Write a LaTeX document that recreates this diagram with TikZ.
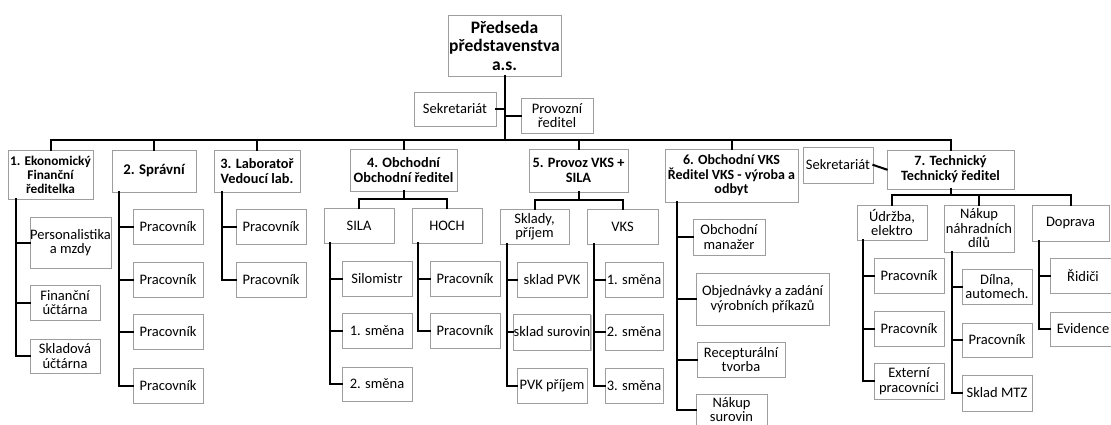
\documentclass[tikz,border=0pt]{standalone}
\usepackage{fontspec}
\setmainfont{Carlito}
\usetikzlibrary{shadows}
\newcommand{\obox}[7][]{\node[bx,#1,minimum width={(#5-#3)*1pt},minimum height={(#6-#4)*1pt}] (#2) at ({(#3+#5)/2},{(#4+#6)/2}) {#7};}
\tikzset{
  bx/.style={draw=black!38, fill=white, line width=0.8pt, inner sep=0pt, align=center,
    font=\fontsize{14.5}{14.5}\selectfont,
    drop shadow={shadow xshift=1.2pt, shadow yshift=-1.2pt, fill=black!45, opacity=0.5}},
  bold/.style={font=\fontsize{13.3}{14}\selectfont\bfseries},
  bolder/.style={font=\fontsize{14.3}{15}\selectfont\bfseries},
  conn/.style={draw=black, line width=2pt, line cap=rect}
}
\begin{document}
\begin{tikzpicture}[x=1pt,y=-1pt]
\useasboundingbox (0,0) rectangle (1111,424);
% top
\obox[font=\fontsize{17.5}{18.5}\selectfont\bfseries]{pred}{448}{15}{561}{76}{Předseda\\představenstva\\a.s.}
\obox{sek1}{414}{92}{496}{126}{Sekretariát}
\obox{prov}{521}{98}{593}{133}{Provozní\\ředitel}
% departments
\obox[bold]{b1}{8}{150}{93}{199}{1. Ekonomický\\Finanční\\ředitelka}
\obox[font=\fontsize{14.8}{15}\selectfont\bfseries]{b2}{112}{150}{196}{192}{2. Správní}
\obox[bolder]{b3}{214}{150}{300}{192}{3. Laboratoř\\Vedoucí lab.}
\obox[bolder]{b4}{350}{149}{457}{191}{4. Obchodní\\Obchodní ředitel}
\obox[bolder]{b5}{529}{149}{628}{192}{5. Provoz VKS +\\SILA}
\obox[font=\fontsize{14}{14.5}\selectfont\bfseries]{b6}{665}{149}{798}{202}{6. Obchodní VKS\\Ředitel VKS - výroba a\\odbyt}
\obox{sek2}{803}{147}{873}{183}{Sekretariát}
\obox[font=\fontsize{14.2}{15}\selectfont\bfseries]{b7}{887}{150}{1014}{189}{7. Technický\\Technický ředitel}
% dept 1
\obox{c11}{30}{217}{111}{268}{Personalistika\\a mzdy}
\obox{c12}{30}{285}{100}{320}{Finanční\\účtárna}
\obox{c13}{30}{339}{100}{373}{Skladová\\účtárna}
% dept 2
\obox{c21}{133}{209}{203}{244}{Pracovník}
\obox{c22}{133}{262}{203}{297}{Pracovník}
\obox{c23}{133}{314}{203}{349}{Pracovník}
\obox{c24}{133}{368}{203}{403}{Pracovník}
% dept 3
\obox{c31}{236}{209}{306}{244}{Pracovník}
\obox{c32}{236}{262}{306}{297}{Pracovník}
% dept 4
\obox{sila}{324}{208}{394}{243}{SILA}
\obox{hoch}{412}{208}{482}{243}{HOCH}
\obox{s1}{342}{261}{412}{296}{Silomistr}
\obox{s2}{342}{313}{412}{348}{1. směna}
\obox{s3}{342}{367}{412}{401}{2. směna}
\obox{h1}{430}{261}{500}{296}{Pracovník}
\obox{h2}{430}{313}{500}{348}{Pracovník}
% dept 5
\obox{skl}{500}{209}{569}{244}{Sklady,\\příjem}
\obox{vks}{587}{209}{658}{244}{VKS}
\obox{k1}{517}{262}{587}{297}{sklad PVK}
\obox{k2}{517}{314}{587}{350}{sklad surovin}
\obox{k3}{517}{368}{587}{403}{PVK příjem}
\obox{v1}{605}{262}{663}{297}{1. směna}
\obox{v2}{605}{314}{663}{350}{2. směna}
\obox{v3}{605}{368}{663}{403}{3. směna}
% dept 6
\obox{c61}{693}{219}{765}{255}{Obchodní\\manažer}
\obox{c62}{696}{273}{829}{325}{Objednávky a zadání\\výrobních příkazů}
\obox{c63}{697}{342}{785}{377}{Recepturální\\tvorba}
\obox{c64}{696}{394}{767}{425}{Nákup\\surovin}
% dept 7
\obox{udr}{857}{205}{927}{240}{Údržba,\\elektro}
\obox{nak}{944}{205}{1014}{252}{Nákup\\náhradních\\dílů}
\obox{dop}{1032}{205}{1109}{241}{Doprava}
\obox{u1}{874}{258}{944}{293}{Pracovník}
\obox{u2}{874}{311}{944}{346}{Pracovník}
\obox{u3}{874}{363}{944}{399}{Externí\\pracovníci}
\obox{n1}{962}{269}{1032}{304}{Dílna,\\automech.}
\obox{n2}{962}{323}{1032}{357}{Pracovník}
\obox{n3}{962}{375}{1032}{411}{Sklad MTZ}
\obox{d1}{1050}{258}{1116}{293}{Řidiči}
\obox{d2}{1050}{312}{1116}{346}{Evidence}
% coordinates
\coordinate (busy) at (0,140);
\coordinate (v1x) at (16,0);
\coordinate (v2x) at (119,0);
\coordinate (v3x) at (222,0);
\coordinate (h4) at (0,199);
\coordinate (silax) at (330,0);
\coordinate (hochx) at (418,0);
\coordinate (h5) at (0,200);
\coordinate (sklx) at (507,0);
\coordinate (vksx) at (594,0);
\coordinate (v6x) at (677,0);
\coordinate (h7) at (0,195);
\coordinate (udrx) at (863,0);
\coordinate (nakx) at (952,0);
\coordinate (dopx) at (1039,0);
% top connectors
\draw[conn] (pred.south) -- (pred.south |- busy);
\draw[conn] (sek1.east) -- (sek1.east -| pred.south);
\draw[conn] (prov.west) -- (prov.west -| pred.south);
\draw[conn] (b1.north) |- (b7.north |- busy) -- (b7.north);
\foreach \n in {b2,b3,b4,b5,b6} \draw[conn] (\n.north) -- (\n.north |- busy);
\draw[conn] (sek2.east) -- (b7.west);
% dept 1
\draw[conn] (b1.south -| v1x) |- (c13.west);
\foreach \n in {c11,c12} \draw[conn] (\n.west) -- (\n.west -| v1x);
% dept 2
\draw[conn] (b2.south -| v2x) |- (c24.west);
\foreach \n in {c21,c22,c23} \draw[conn] (\n.west) -- (\n.west -| v2x);
% dept 3
\draw[conn] (b3.south -| v3x) |- (c32.west);
\draw[conn] (c31.west) -- (c31.west -| v3x);
% dept 4
\draw[conn] (b4.south) -- (b4.south |- h4);
\draw[conn] (sila.north) |- (hoch.north |- h4) -- (hoch.north);
\draw[conn] (sila.south -| silax) |- (s3.west);
\foreach \n in {s1,s2} \draw[conn] (\n.west) -- (\n.west -| silax);
\draw[conn] (hoch.south -| hochx) |- (h2.west);
\draw[conn] (h1.west) -- (h1.west -| hochx);
% dept 5
\draw[conn] (b5.south) -- (b5.south |- h5);
\draw[conn] (skl.north) |- (vks.north |- h5) -- (vks.north);
\draw[conn] (skl.south -| sklx) |- (k3.west);
\foreach \n in {k1,k2} \draw[conn] (\n.west) -- (\n.west -| sklx);
\draw[conn] (vks.south -| vksx) |- (v3.west);
\foreach \n in {v1,v2} \draw[conn] (\n.west) -- (\n.west -| vksx);
% dept 6
\draw[conn] (b6.south -| v6x) |- (c64.west);
\foreach \n in {c61,c62,c63} \draw[conn] (\n.west) -- (\n.west -| v6x);
% dept 7
\draw[conn] (b7.south) -- (b7.south |- h7);
\draw[conn] (udr.north) |- (dop.north |- h7) -- (dop.north);
\draw[conn] (nak.north) -- (nak.north |- h7);
\draw[conn] (udr.south -| udrx) |- (u3.west);
\foreach \n in {u1,u2} \draw[conn] (\n.west) -- (\n.west -| udrx);
\draw[conn] (nak.south -| nakx) |- (n3.west);
\foreach \n in {n1,n2} \draw[conn] (\n.west) -- (\n.west -| nakx);
\draw[conn] (dop.south -| dopx) |- (d2.west);
\draw[conn] (d1.west) -- (d1.west -| dopx);
\end{tikzpicture}
\end{document}
